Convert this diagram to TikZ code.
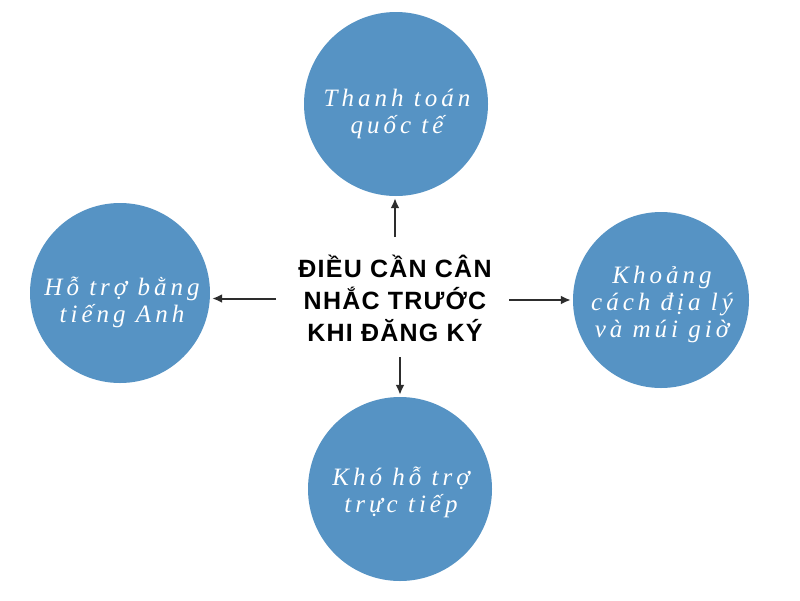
\documentclass[tikz,border=0pt]{standalone}
\usepackage{fontspec}
\setmainfont{Liberation Serif}
\newfontfamily\headfont[LetterSpace=5]{Liberation Sans}
\newfontfamily\bubblefont[LetterSpace=16]{Liberation Serif}
\usetikzlibrary{arrows.meta}
\definecolor{bubbleblue}{RGB}{86,147,196}
\definecolor{arrowgray}{RGB}{45,45,45}

\begin{document}
\begin{tikzpicture}[x=1pt,y=-1pt,
    bubble/.style={circle, fill=bubbleblue, inner sep=0pt},
    bubbletext/.style={text=white, align=center, font=\bubblefont\itshape\fontsize{25}{27}\selectfont},
    link/.style={-{Latex[length=10pt,width=9pt]}, arrowgray, line width=2pt, shorten >=2pt}]
    \useasboundingbox (0,0) rectangle (800,600);
    \fill[white] (0,0) rectangle (800,600);

    % the four circles
    \node[bubble, minimum size=184pt] (pay) at (396,104) {};
    \node[bubble, minimum size=180pt] (lang) at (120,293) {};
    \node[bubble, minimum size=176pt] (geo) at (661,300) {};
    \node[bubble, minimum size=184pt] (help) at (400,489) {};

    \node[bubbletext] (paytxt) at (397,114) {Thanh toán\\quốc tế};
    \node[bubbletext] (langtxt) at (122,302) {Hỗ trợ bằng\\tiếng Anh};
    \node[bubbletext] (geotxt) at (662,304) {Khoảng\\cách địa lý\\và múi giờ};
    \node[bubbletext] (helptxt) at (401,492) {Khó hỗ trợ\\trực tiếp};

    % centre
    \node[align=center, font=\headfont\bfseries\fontsize{25}{32}\selectfont] (core) at (395,298)
        {ĐIỀU CẦN CÂN\\NHẮC TRƯỚC\\KHI ĐĂNG KÝ};

    \coordinate (ctop) at (395,237);
    \coordinate (cleft) at (276,298.5);
    \coordinate (cright) at (509,300);
    \coordinate (cbot) at (400,357);

    \draw[link] (ctop) -- (ctop |- pay.south);
    \draw[link] (cleft) -- (cleft -| lang.east);
    \draw[link] (cright) -- (cright -| geo.west);
    \draw[link] (cbot) -- (cbot |- help.north);
\end{tikzpicture}
\end{document}
